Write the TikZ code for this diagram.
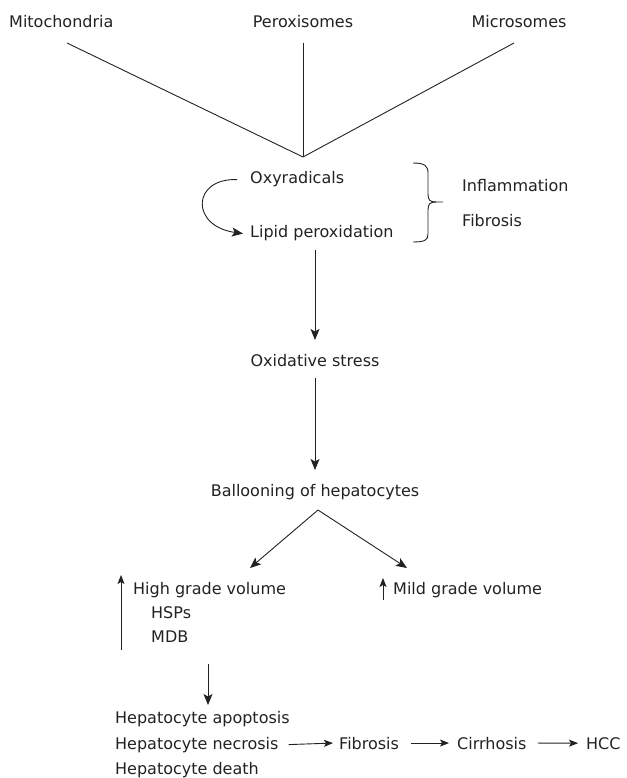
\documentclass[tikz,border=0pt]{standalone}
\usepackage{fontspec}
\setmainfont{DejaVu Sans}
\usetikzlibrary{arrows.meta}
\definecolor{ink}{HTML}{222222}
\begin{document}
\begin{tikzpicture}[x=1pt,y=-1pt,
  txt/.style={font=\fontsize{16}{19}\selectfont, inner sep=0pt, text=ink},
  ln/.style={draw=ink, line width=0.9pt},
  arr/.style={ln,-{Stealth[length=11pt,width=9pt,inset=2.5pt]}},
  sarr/.style={ln,-{Stealth[length=9pt,width=7pt,inset=2pt]}}]
\useasboundingbox (0,0) rectangle (626,778);

% top sources
\node[txt,anchor=base west] (mito) at (9,28) {Mitochondria};
\node[txt,anchor=base] (perox) at (303,28) {Peroxisomes};
\node[txt,anchor=base] (micro) at (519,28) {Microsomes};
\coordinate (apex) at (303,157);
\coordinate (m1) at (67,43);
\coordinate (p1) at (303,43);
\coordinate (c1) at (514,43);
\draw[ln] (m1) -- (apex);
\draw[ln] (p1) -- (apex);
\draw[ln] (c1) -- (apex);

% oxyradicals
\node[txt,anchor=base west] (oxy) at (250,183) {Oxyradicals};
\node[txt,anchor=base west] (lipid) at (250,237) {Lipid peroxidation};
\draw[arr] ([xshift=-13pt,yshift=-1pt]oxy.west) .. controls (192,178) and (190,226) .. ([xshift=-7pt,yshift=-1pt]lipid.west);

% brace
\coordinate (bt) at (413,163);
\coordinate (bb) at (413,242);
\coordinate (bm) at (443,202);
\draw[ln] (bt) .. controls (425,163) and (428,166) .. (428,173) -- (428,194)
  .. controls (428,200) and (430,202) .. (436,202) -- (bm);
\draw[ln] (436,202) .. controls (430,202) and (428,204) .. (428,210) -- (428,234)
  .. controls (428,240) and (425,242) .. (bb);
\node[txt,anchor=base west] (infl) at (462,191) {Inflammation};
\node[txt,anchor=base west] (fib1) at (462,226) {Fibrosis};

% main chain
\node[txt,anchor=base] (ox) at (315,366) {Oxidative stress};
\node[txt,anchor=base] (ball) at (315,496) {Ballooning of hepatocytes};
\coordinate (a1) at (315,250);
\coordinate (a2) at (315,378);
\draw[arr] (a1) -- (315,340);
\draw[arr] (a2) -- (315,470);

\coordinate (split) at (318,510);
\draw[arr] (split) -- (250,568);
\draw[arr] (split) -- (407,568);

% high grade
\node[txt,anchor=base west] (high) at (133,594) {High grade volume};
\node[txt,anchor=base west] (hsp) at (151,618) {HSPs};
\node[txt,anchor=base west] (mdb) at (151,642) {MDB};
\draw[sarr] (121,650) -- (121,575);

% mild grade
\node[txt,anchor=base west] (mild) at (393,594) {Mild grade volume};
\draw[sarr] (383,600) -- (383,578);

\draw[arr] (208,664) -- (208,705);

% bottom
\node[txt,anchor=base west] (apop) at (115,723) {Hepatocyte apoptosis};
\node[txt,anchor=base west] (necr) at (115,749) {Hepatocyte necrosis};
\node[txt,anchor=base west] (death) at (115,774) {Hepatocyte death};
\node[txt,anchor=base west] (fib2) at (339,749) {Fibrosis};
\node[txt,anchor=base west] (cirr) at (457,749) {Cirrhosis};
\node[txt,anchor=base west] (hcc) at (586,749) {HCC};
\draw[sarr] ([xshift=10pt]necr.east) -- ([xshift=-6pt]fib2.west);
\draw[sarr] ([xshift=12pt]fib2.east) -- ([xshift=-8pt]cirr.west);
\draw[sarr] ([xshift=11pt]cirr.east) -- ([xshift=-8pt]hcc.west);
\end{tikzpicture}
\end{document}
